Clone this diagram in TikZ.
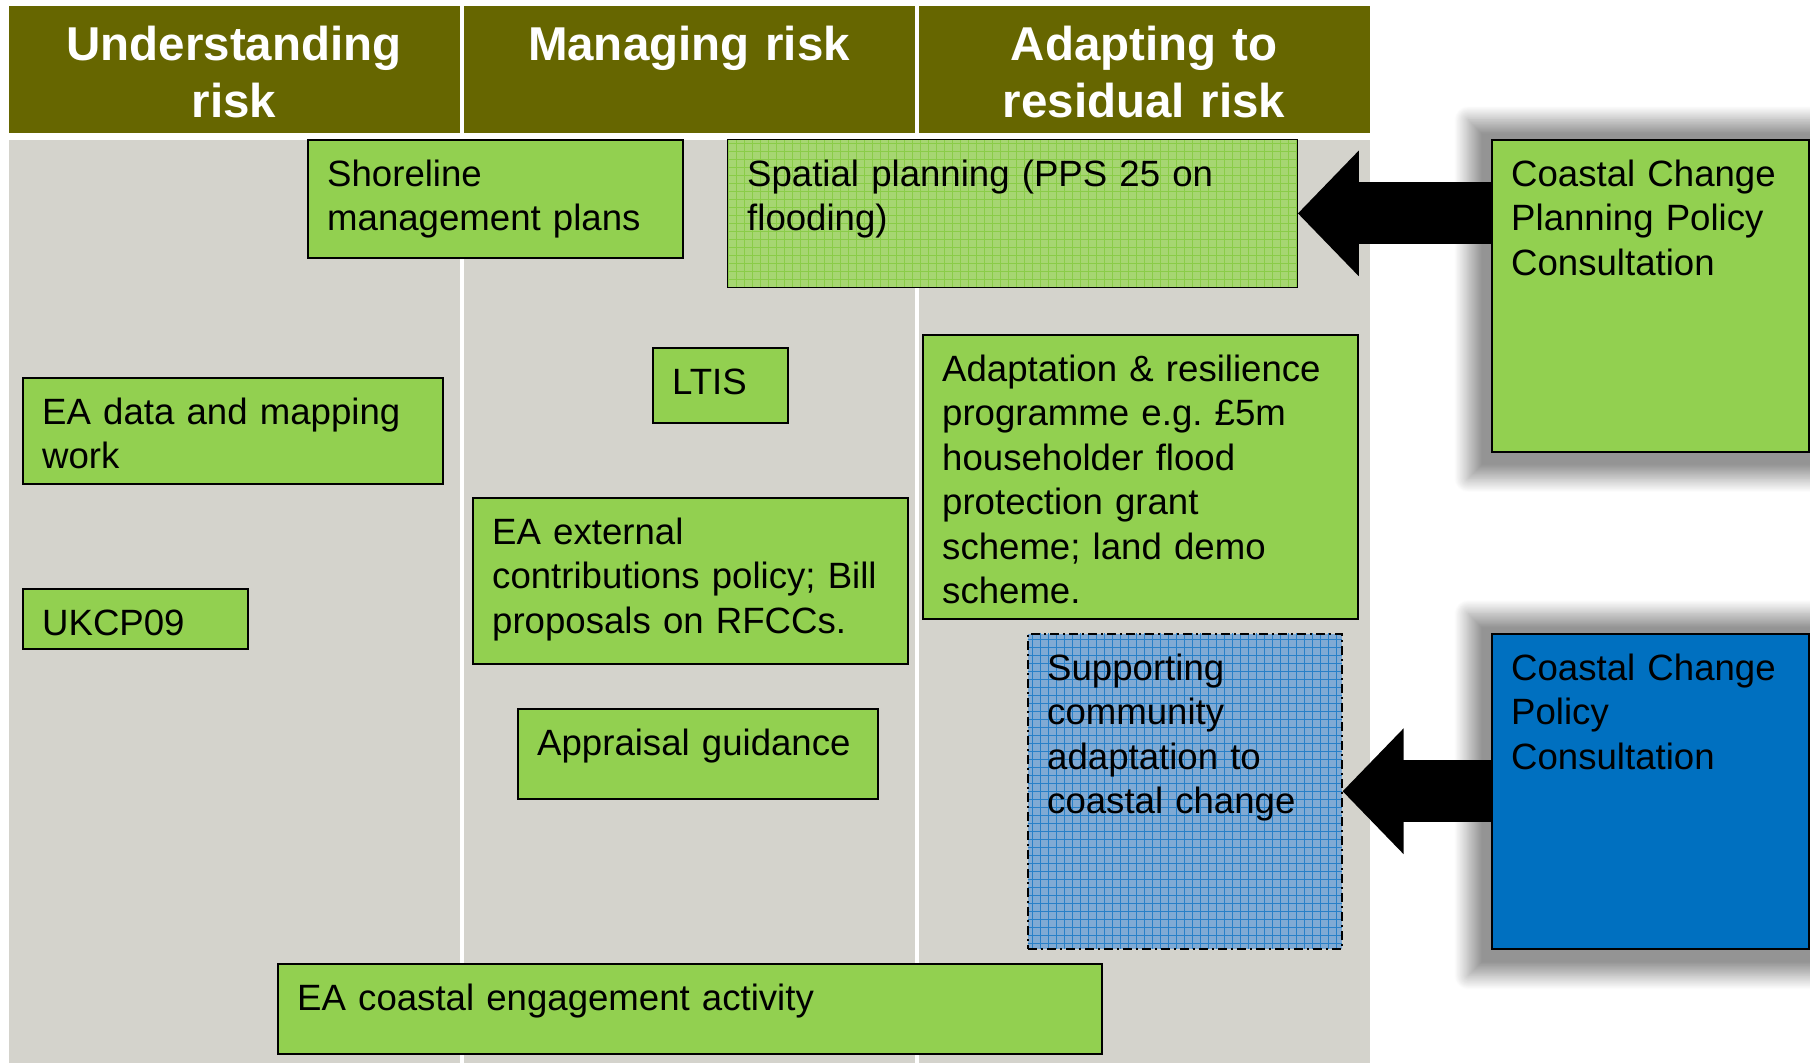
\documentclass[tikz,border=0pt]{standalone}
\usepackage{fontspec}
\setmainfont{Liberation Sans}
\usetikzlibrary{positioning,arrows.meta,patterns.meta,shadows.blur}
\definecolor{olivehead}{RGB}{102,102,0}
\definecolor{bggray}{RGB}{212,211,204}
\definecolor{boxgreen}{RGB}{146,208,80}
\definecolor{palegreen}{RGB}{166,214,114}
\definecolor{gridgreen}{RGB}{138,204,72}
\definecolor{boxblue}{RGB}{0,112,192}
\definecolor{paleblue}{RGB}{128,170,212}
\definecolor{gridblue}{RGB}{40,128,200}
\tikzset{
	box/.style={draw=black,line width=1.5pt,fill=boxgreen,anchor=north west,inner sep=0pt},
	txt/.style={anchor=base west,inner sep=0pt,text width=420pt,align=left,
		font=\fontsize{36.6}{44.5}\selectfont},
	headtxt/.style={anchor=base,inner sep=0pt,text width=440pt,align=center,text=white,
		font=\fontsize{47.5}{57}\selectfont\bfseries},
	bigarrow/.style={line width=62pt,-{Triangle[length=61pt,width=122pt]}},
	softshadow/.style={blur shadow={shadow xshift=0pt,shadow yshift=-3pt,
		shadow blur radius=12pt,shadow blur steps=24,shadow opacity=42,shadow scale=1.15}}
}
\begin{document}
\begin{tikzpicture}[x=1pt,y=-1pt,
	gridfill/.style 2 args={preaction={fill=#1},
		pattern={Hatch[angle=0,distance=8pt,line width=0.8pt]},pattern color=#2}]
\useasboundingbox (0,0) rectangle (1810,1063);
\fill[olivehead] (9,6) rectangle (1370,133);
\fill[bggray] (9,140) rectangle (1370,1063);
\draw[white,line width=4pt] (461.5,6) -- (461.5,1063) (916.5,6) -- (916.5,1063);
\node[headtxt] (hd1) at (234,60) {Understanding\\risk};
\node[headtxt] (hd2) at (689,60) {Managing risk};
\node[headtxt] (hd3) at (1144,60) {Adapting to\\residual risk};

\node[box,minimum width=375pt,minimum height=118pt] (shore) at (307,139) {};
\node[txt] (shoretxt) at ([shift={(20,47)}]shore.north west) {Shoreline\\management plans};
\node[box,gridfill={palegreen}{gridgreen},minimum width=570pt,minimum height=148pt] (spatial) at (727,139) {};
\node[txt,text width=540pt] (spatialtxt) at ([shift={(20,47)}]spatial.north west) {Spatial planning (PPS 25 on\\flooding)};
\node[box,softshadow,minimum width=317pt,minimum height=312pt] (ccpp) at (1491,139) {};
\node[txt,text width=300pt] (ccpptxt) at ([shift={(20,47)}]ccpp.north west) {Coastal Change\\Planning Policy\\Consultation};

\node[box,minimum width=420pt,minimum height=106pt] (eadata) at (22,377) {};
\node[txt] (eadatatxt) at ([shift={(20,47)}]eadata.north west) {EA data and mapping\\work};
\node[box,minimum width=135pt,minimum height=75pt] (ltis) at (652,347) {};
\node[txt] (ltistxt) at ([shift={(20,47)}]ltis.north west) {LTIS};
\node[box,minimum width=435pt,minimum height=284pt] (adapt) at (922,334) {};
\node[txt] (adapttxt) at ([shift={(20,47)}]adapt.north west) {Adaptation \& resilience\\programme e.g.\ £5m\\householder flood\\protection grant\\scheme; land demo\\scheme.};
\node[box,minimum width=435pt,minimum height=166pt] (external) at (472,497) {};
\node[txt] (externaltxt) at ([shift={(20,47)}]external.north west) {EA external\\contributions policy; Bill\\proposals on RFCCs.};
\node[box,minimum width=225pt,minimum height=60pt] (ukcp) at (22,588) {};
\node[txt] (ukcptxt) at ([shift={(20,47)}]ukcp.north west) {UKCP09};

\node[box,gridfill={paleblue}{gridblue},dash pattern=on 9pt off 4pt on 2pt off 4pt,minimum width=314pt,minimum height=315pt] (support) at (1027,633) {};
\node[txt] (supporttxt) at ([shift={(20,47)}]support.north west) {Supporting\\community\\adaptation to\\coastal change};
\node[box,softshadow,fill=boxblue,minimum width=317pt,minimum height=315pt] (ccp) at (1491,633) {};
\node[txt,text width=300pt] (ccptxt) at ([shift={(20,47)}]ccp.north west) {Coastal Change\\Policy\\Consultation};
\node[box,minimum width=360pt,minimum height=90pt] (apprais) at (517,708) {};
\node[txt] (appraistxt) at ([shift={(20,47)}]apprais.north west) {Appraisal guidance};
\node[box,minimum width=824pt,minimum height=90pt] (engage) at (277,963) {};
\node[txt,text width=800pt] (engagetxt) at ([shift={(20,47)}]engage.north west) {EA coastal engagement activity};

\draw[bigarrow] (spatial.east -| ccpp.west) -- (spatial.east);
\draw[bigarrow] (support.east -| ccp.west) -- (support.east);
\end{tikzpicture}
\end{document}
